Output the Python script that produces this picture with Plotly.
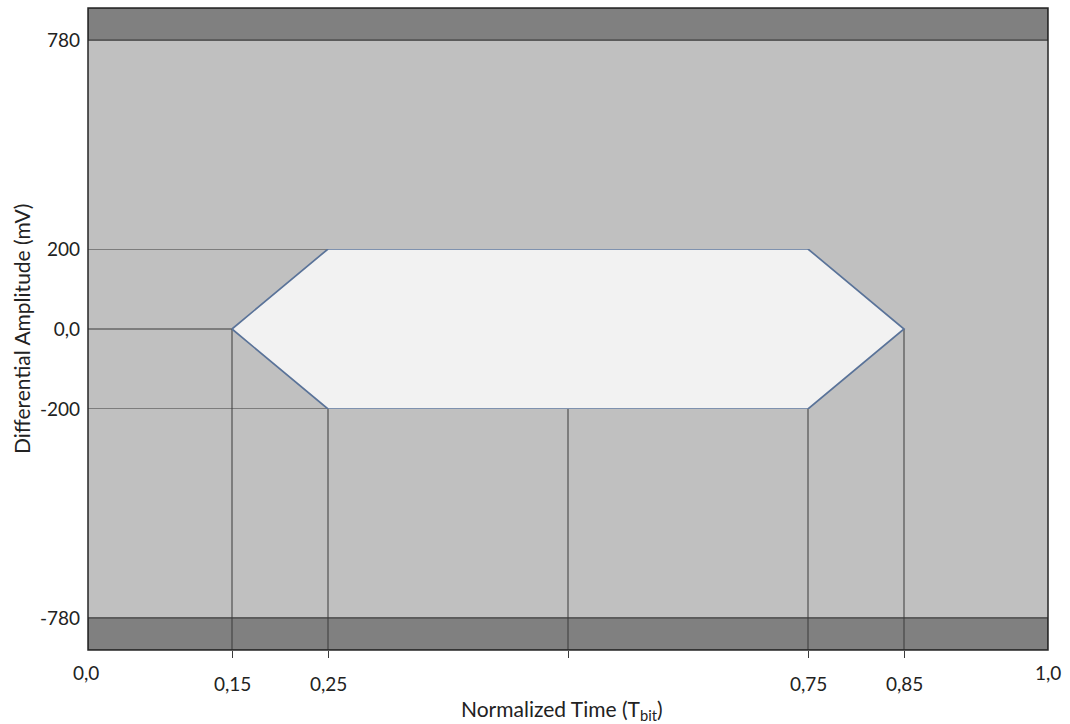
import plotly.graph_objects as go

# Eye-diagram receiver mask: normalized time (UI) vs differential amplitude (mV)
mask_time = [0.15, 0.25, 0.75, 0.85, 0.75, 0.25]
mask_amp = [0, 200, 200, 0, -200, -200]

limit_amp = 780          # absolute amplitude limit (dark bands beyond it)
axis_amp = 869           # outer edge of the amplitude axis
inner_amp = 200          # inner (expanded) section of the amplitude scale

# reference lines: horizontal ones run from t=0 to the mask vertex,
# vertical ones drop from the mask vertex to the bottom of the chart
h_ref_amp = [200, 0, -200]
h_ref_time = [0.25, 0.15, 0.25]
v_ref_time = [0.15, 0.25, 0.5, 0.75, 0.85]
v_ref_amp = [0, -200, -200, -200, 0]

x_label_vals = [0.0, 0.15, 0.25, 0.75, 0.85, 1.0]
x_label_text = ["0,0", "0,15", "0,25", "0,75", "0,85", "1,0"]
x_label_raised = [True, False, False, False, False, True]

y_inner_ticks = [200, 0, -200]
y_inner_text = ["200", "0,0", "-200"]

FONT = "Lato"
LINE = "#3a3a3a"

fig = go.Figure()

def seg(x, y, yaxis, **kw):
    fig.add_trace(go.Scatter(x=x, y=y, yaxis=yaxis, mode="lines",
                             hoverinfo="skip", showlegend=False, **kw))

# dark bands beyond the amplitude limit
seg([0, 1, 1, 0, 0], [limit_amp, limit_amp, axis_amp, axis_amp, limit_amp], "y2",
    fill="toself", fillcolor="#808080", line=dict(color=LINE, width=1.2))
seg([0, 1, 1, 0, 0], [-limit_amp, -limit_amp, -axis_amp, -axis_amp, -limit_amp], "y3",
    fill="toself", fillcolor="#808080", line=dict(color=LINE, width=1.2))

# horizontal reference lines
for a, t in zip(h_ref_amp, h_ref_time):
    seg([0, t], [a, a], "y", line=dict(color=LINE, width=1))

# vertical reference lines, split at the section boundary
for t, a in zip(v_ref_time, v_ref_amp):
    if a > -inner_amp:
        seg([t, t], [a, -inner_amp], "y", line=dict(color=LINE, width=1))
    seg([t, t], [-inner_amp, -axis_amp], "y3", line=dict(color=LINE, width=1))

# the mask itself
seg(mask_time + [mask_time[0]], mask_amp + [mask_amp[0]], "y",
    fill="toself", fillcolor="#f2f2f2", line=dict(color="#5a7399", width=1.7))

# pixel layout of the three amplitude sections (top / inner / bottom)
H_TOP, H_BOT = 8, 650
px_inner_top, px_inner_bot = 249, 409
d_lo = (H_BOT - px_inner_bot) / (H_BOT - H_TOP)
d_hi = (H_BOT - px_inner_top) / (H_BOT - H_TOP)

tickfont = dict(family=FONT, size=19, color="#222")
titlefont = dict(family=FONT, size=21, color="#222")
common_y = dict(showgrid=False, zeroline=False, ticks="", tickfont=tickfont,
                ticklabelstandoff=7, fixedrange=True, automargin=False)

fig.update_layout(
    width=1070, height=724,
    margin=dict(l=88, r=22, t=H_TOP, b=724 - H_BOT, autoexpand=False),
    paper_bgcolor="white", plot_bgcolor="rgba(0,0,0,0)",
    font=dict(family=FONT, color="#222"),
    xaxis=dict(range=[0, 1], showgrid=False, zeroline=False, anchor="y3",
               tickvals=v_ref_time, ticks="outside", ticklen=7, tickwidth=1,
               tickcolor=LINE, showticklabels=False, showline=False,
               automargin=False, fixedrange=True),
    yaxis=dict(domain=[d_lo, d_hi], range=[-inner_amp, inner_amp],
               tickvals=y_inner_ticks, ticktext=y_inner_text, anchor="x", **common_y),
    yaxis2=dict(domain=[d_hi, 1], range=[inner_amp, axis_amp],
                tickvals=[limit_amp], ticktext=[str(limit_amp)], anchor="x", **common_y),
    yaxis3=dict(domain=[0, d_lo], range=[-axis_amp, -inner_amp],
                tickvals=[-limit_amp], ticktext=[str(-limit_amp)], anchor="x", **common_y),
    shapes=[
        # one continuous background for all three sections
        dict(type="rect", xref="paper", yref="paper", x0=0, x1=1, y0=0, y1=1,
             fillcolor="#c0c0c0", line=dict(width=0), layer="below"),
        dict(type="rect", xref="paper", yref="paper", x0=0, x1=1, y0=0, y1=1,
             line=dict(color="#262626", width=1.5), layer="above"),
    ],
)

# time tick labels (first and last sit a little higher)
for v, txt, raised in zip(x_label_vals, x_label_text, x_label_raised):
    fig.add_annotation(x=v, xref="x", y=0, yref="paper", text=txt, showarrow=False,
                       xanchor="center", yanchor="middle",
                       yshift=-22 if raised else -33, xshift=-2 if v == 0 else 0,
                       font=tickfont)

# axis titles
fig.add_annotation(x=0.494, xref="paper", y=0, yref="paper",
                   text="Normalized Time (T<sub>bit</sub>)", showarrow=False,
                   xanchor="center", yanchor="middle", yshift=-60, font=titlefont)
fig.add_annotation(x=0, xref="paper", y=(d_lo + d_hi) / 2, yref="paper",
                   text="Differential Amplitude (mV)", showarrow=False, textangle=-90,
                   xanchor="center", yanchor="middle", xshift=-67, font=titlefont)

fig.write_html("out.html")
